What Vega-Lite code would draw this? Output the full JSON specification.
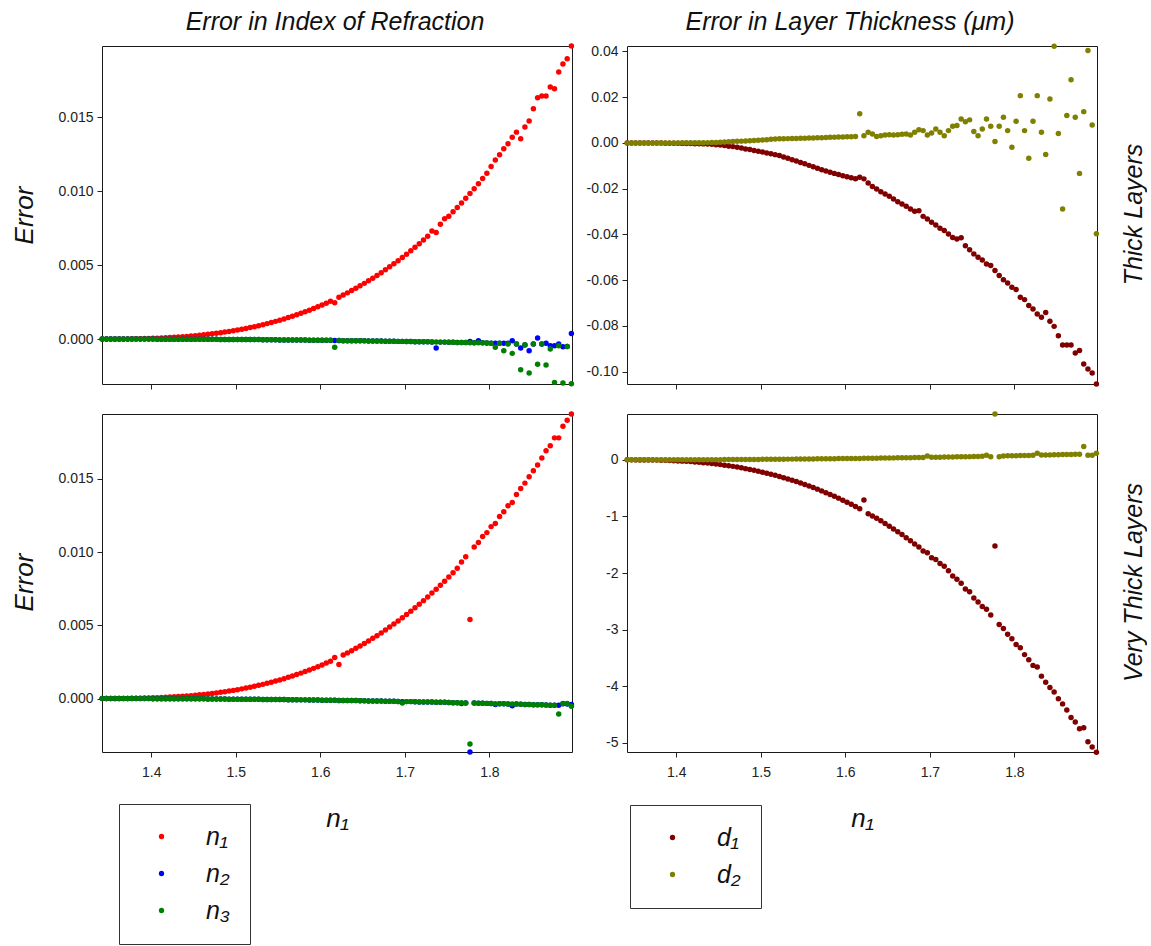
{
"$schema": "https://vega.github.io/schema/vega-lite/v6.json",
"padding": {"left": 10, "top": 9, "right": 0, "bottom": 0},
"background": "white",
"columns": 2,
"spacing": {"row": 30, "column": 55},
"bounds": "flush",
"resolve": {"scale": {"x": "independent", "y": "independent", "color": "independent"}},
"datasets": {"t": [
{"x":1.342,"a1":0,"a2":0,"a3":0,"b1":0,"b2":0,"c1":0,"c2":0,"c3":0,"d1":0,"d2":0},
{"x":1.347,"a1":0,"a2":0,"a3":0,"b1":0,"b2":0,"c1":0,"c2":0,"c3":0,"d1":-0.0001,"d2":0},
{"x":1.352,"a1":0.000001,"a2":0,"a3":0,"b1":0,"b2":0,"c1":0.000001,"c2":0,"c3":0,"d1":-0.0004,"d2":0},
{"x":1.357,"a1":0.000002,"a2":0,"a3":0,"b1":0,"b2":0,"c1":0.000002,"c2":0,"c3":0,"d1":-0.0008,"d2":0},
{"x":1.362,"a1":0.000004,"a2":0,"a3":0,"b1":0,"b2":0,"c1":0.000004,"c2":0,"c3":0,"d1":-0.0013,"d2":0},
{"x":1.367,"a1":0.000006,"a2":0,"a3":0,"b1":-0.00002,"b2":0,"c1":0.000006,"c2":0,"c3":0,"d1":-0.0019,"d2":0},
{"x":1.372,"a1":0.000009,"a2":0,"a3":0,"b1":-0.00003,"b2":0,"c1":0.000009,"c2":0,"c3":0,"d1":-0.003,"d2":0},
{"x":1.377,"a1":0.000013,"a2":0,"a3":0,"b1":-0.00005,"b2":0,"c1":0.000013,"c2":0,"c3":0,"d1":-0.0045,"d2":0},
{"x":1.382,"a1":0.000018,"a2":0,"a3":0,"b1":-0.00006,"b2":0,"c1":0.000018,"c2":0,"c3":0,"d1":-0.0065,"d2":0.001},
{"x":1.387,"a1":0.000024,"a2":0,"a3":0,"b1":-0.00008,"b2":0,"c1":0.000024,"c2":0,"c3":0,"d1":-0.0087,"d2":0.001},
{"x":1.392,"a1":0.000031,"a2":0,"a3":0,"b1":-0.0001,"b2":0.00002,"c1":0.000031,"c2":0,"c3":0,"d1":-0.011,"d2":0.001},
{"x":1.397,"a1":0.000039,"a2":0,"a3":0,"b1":-0.00012,"b2":0.00003,"c1":0.000039,"c2":0,"c3":0,"d1":-0.0145,"d2":0.001},
{"x":1.402,"a1":0.000049,"a2":0,"a3":0,"b1":-0.00015,"b2":0.00004,"c1":0.000049,"c2":-0.00001,"c3":-0.00001,"d1":-0.0185,"d2":0.001},
{"x":1.407,"a1":0.000059,"a2":-0.00001,"a3":-0.00001,"b1":-0.00018,"b2":0.00005,"c1":0.000059,"c2":-0.00001,"c3":-0.00001,"d1":-0.0225,"d2":0.001},
{"x":1.412,"a1":0.000071,"a2":-0.00001,"a3":-0.00001,"b1":-0.0002,"b2":0.00006,"c1":0.000071,"c2":-0.00001,"c3":-0.00001,"d1":-0.0265,"d2":0.002},
{"x":1.417,"a1":0.000085,"a2":-0.00001,"a3":-0.00001,"b1":-0.00025,"b2":0.00007,"c1":0.000085,"c2":-0.00001,"c3":-0.00001,"d1":-0.031,"d2":0.002},
{"x":1.422,"a1":0.0001,"a2":-0.00001,"a3":-0.00001,"b1":-0.0003,"b2":0.00008,"c1":0.0001,"c2":-0.00001,"c3":-0.00001,"d1":-0.037,"d2":0.002},
{"x":1.427,"a1":0.000116,"a2":-0.00001,"a3":-0.00001,"b1":-0.00035,"b2":0.00009,"c1":0.000116,"c2":-0.00001,"c3":-0.00001,"d1":-0.044,"d2":0.003},
{"x":1.432,"a1":0.000134,"a2":-0.00001,"a3":-0.00001,"b1":-0.0004,"b2":0.0001,"c1":0.000134,"c2":-0.00001,"c3":-0.00001,"d1":-0.05,"d2":0.003},
{"x":1.437,"a1":0.000154,"a2":-0.00001,"a3":-0.00001,"b1":-0.0005,"b2":0.00015,"c1":0.000154,"c2":-0.00001,"c3":-0.00001,"d1":-0.057,"d2":0.003},
{"x":1.442,"a1":0.000176,"a2":-0.00001,"a3":-0.00001,"b1":-0.0006,"b2":0.0002,"c1":0.000176,"c2":-0.00002,"c3":-0.00002,"d1":-0.065,"d2":0.004},
{"x":1.447,"a1":0.0002,"a2":-0.00001,"a3":-0.00001,"b1":-0.00075,"b2":0.00025,"c1":0.0002,"c2":-0.00002,"c3":-0.00002,"d1":-0.074,"d2":0.004},
{"x":1.452,"a1":0.000225,"a2":-0.00002,"a3":-0.00002,"b1":-0.0009,"b2":0.0003,"c1":0.000225,"c2":-0.00002,"c3":-0.00002,"d1":-0.084,"d2":0.004},
{"x":1.457,"a1":0.000253,"a2":-0.00002,"a3":-0.00002,"b1":-0.0011,"b2":0.0004,"c1":0.000253,"c2":-0.00002,"c3":-0.00002,"d1":-0.094,"d2":0.005},
{"x":1.462,"a1":0.000283,"a2":-0.00002,"a3":-0.00002,"b1":-0.0014,"b2":0.0005,"c1":0.000283,"c2":-0.00002,"c3":-0.00002,"d1":-0.104,"d2":0.005},
{"x":1.467,"a1":0.000315,"a2":-0.00002,"a3":-0.00002,"b1":-0.0016,"b2":0.0006,"c1":0.000315,"c2":-0.00003,"c3":-0.00003,"d1":-0.115,"d2":0.005},
{"x":1.472,"a1":0.000349,"a2":-0.00002,"a3":-0.00002,"b1":-0.0019,"b2":0.0007,"c1":0.000349,"c2":-0.00003,"c3":-0.00003,"d1":-0.128,"d2":0.006},
{"x":1.477,"a1":0.000386,"a2":-0.00002,"a3":-0.00002,"b1":-0.0022,"b2":0.0008,"c1":0.000386,"c2":-0.00003,"c3":-0.00003,"d1":-0.141,"d2":0.006},
{"x":1.482,"a1":0.000425,"a2":-0.00003,"a3":-0.00003,"b1":-0.0026,"b2":0.0009,"c1":0.000425,"c2":-0.00003,"c3":-0.00003,"d1":-0.155,"d2":0.007},
{"x":1.487,"a1":0.000467,"a2":-0.00003,"a3":-0.00003,"b1":-0.0029,"b2":0.001,"c1":0.000467,"c2":-0.00003,"c3":-0.00003,"d1":-0.169,"d2":0.007},
{"x":1.492,"a1":0.000511,"a2":-0.00003,"a3":-0.00003,"b1":-0.0033,"b2":0.0011,"c1":0.000511,"c2":-0.00004,"c3":-0.00004,"d1":-0.184,"d2":0.008},
{"x":1.497,"a1":0.000558,"a2":-0.00003,"a3":-0.00003,"b1":-0.0036,"b2":0.0012,"c1":0.000558,"c2":-0.00004,"c3":-0.00004,"d1":-0.201,"d2":0.008},
{"x":1.502,"a1":0.000608,"a2":-0.00003,"a3":-0.00003,"b1":-0.004,"b2":0.0013,"c1":0.000608,"c2":-0.00004,"c3":-0.00004,"d1":-0.218,"d2":0.009},
{"x":1.507,"a1":0.000661,"a2":-0.00004,"a3":-0.00004,"b1":-0.0044,"b2":0.00145,"c1":0.000661,"c2":-0.00004,"c3":-0.00004,"d1":-0.236,"d2":0.01},
{"x":1.512,"a1":0.000716,"a2":-0.00004,"a3":-0.00004,"b1":-0.0047,"b2":0.0016,"c1":0.000716,"c2":-0.00005,"c3":-0.00005,"d1":-0.254,"d2":0.01},
{"x":1.517,"a1":0.000774,"a2":-0.00004,"a3":-0.00004,"b1":-0.0051,"b2":0.0017,"c1":0.000774,"c2":-0.00005,"c3":-0.00005,"d1":-0.272,"d2":0.011},
{"x":1.522,"a1":0.000836,"a2":-0.00004,"a3":-0.00004,"b1":-0.0055,"b2":0.0018,"c1":0.000836,"c2":-0.00005,"c3":-0.00005,"d1":-0.293,"d2":0.011},
{"x":1.527,"a1":0.000901,"a2":-0.00004,"a3":-0.00004,"b1":-0.0061,"b2":0.00185,"c1":0.000901,"c2":-0.00005,"c3":-0.00005,"d1":-0.315,"d2":0.012},
{"x":1.532,"a1":0.000968,"a2":-0.00005,"a3":-0.00005,"b1":-0.0067,"b2":0.0019,"c1":0.000968,"c2":-0.00006,"c3":-0.00006,"d1":-0.337,"d2":0.013},
{"x":1.537,"a1":0.00104,"a2":-0.00005,"a3":-0.00005,"b1":-0.0073,"b2":0.00195,"c1":0.00104,"c2":-0.00006,"c3":-0.00006,"d1":-0.359,"d2":0.013},
{"x":1.542,"a1":0.001114,"a2":-0.00005,"a3":-0.00005,"b1":-0.0079,"b2":0.002,"c1":0.001114,"c2":-0.00006,"c3":-0.00006,"d1":-0.382,"d2":0.014},
{"x":1.547,"a1":0.001192,"a2":-0.00005,"a3":-0.00005,"b1":-0.0085,"b2":0.00205,"c1":0.001192,"c2":-0.00007,"c3":-0.00007,"d1":-0.408,"d2":0.015},
{"x":1.552,"a1":0.001273,"a2":-0.00006,"a3":-0.00006,"b1":-0.0091,"b2":0.0021,"c1":0.001273,"c2":-0.00007,"c3":-0.00007,"d1":-0.434,"d2":0.015},
{"x":1.557,"a1":0.001359,"a2":-0.00006,"a3":-0.00006,"b1":-0.0098,"b2":0.00215,"c1":0.001359,"c2":-0.00007,"c3":-0.00007,"d1":-0.461,"d2":0.016},
{"x":1.562,"a1":0.001447,"a2":-0.00006,"a3":-0.00006,"b1":-0.0104,"b2":0.0022,"c1":0.001447,"c2":-0.00008,"c3":-0.00008,"d1":-0.489,"d2":0.017},
{"x":1.567,"a1":0.00154,"a2":-0.00007,"a3":-0.00007,"b1":-0.0111,"b2":0.00225,"c1":0.00154,"c2":-0.00008,"c3":-0.00008,"d1":-0.517,"d2":0.018},
{"x":1.572,"a1":0.001636,"a2":-0.00007,"a3":-0.00007,"b1":-0.0117,"b2":0.0023,"c1":0.001636,"c2":-0.00008,"c3":-0.00008,"d1":-0.548,"d2":0.019},
{"x":1.577,"a1":0.001736,"a2":-0.00007,"a3":-0.00007,"b1":-0.0123,"b2":0.0024,"c1":0.001736,"c2":-0.00009,"c3":-0.00009,"d1":-0.579,"d2":0.019},
{"x":1.582,"a1":0.00184,"a2":-0.00007,"a3":-0.00007,"b1":-0.0128,"b2":0.0025,"c1":0.00184,"c2":-0.00009,"c3":-0.00009,"d1":-0.611,"d2":0.02},
{"x":1.587,"a1":0.001949,"a2":-0.00008,"a3":-0.00008,"b1":-0.0133,"b2":0.00255,"c1":0.001949,"c2":-0.0001,"c3":-0.0001,"d1":-0.643,"d2":0.021},
{"x":1.592,"a1":0.002061,"a2":-0.00008,"a3":-0.00008,"b1":-0.0138,"b2":0.0026,"c1":0.002061,"c2":-0.0001,"c3":-0.0001,"d1":-0.676,"d2":0.022},
{"x":1.597,"a1":0.002178,"a2":-0.00008,"a3":-0.00008,"b1":-0.0143,"b2":0.00265,"c1":0.002178,"c2":-0.0001,"c3":-0.0001,"d1":-0.712,"d2":0.023},
{"x":1.602,"a1":0.002298,"a2":-0.00009,"a3":-0.00009,"b1":-0.0148,"b2":0.0027,"c1":0.002298,"c2":-0.00011,"c3":-0.00011,"d1":-0.749,"d2":0.024},
{"x":1.607,"a1":0.002424,"a2":-0.00009,"a3":-0.00009,"b1":-0.0152,"b2":0.00275,"c1":0.002424,"c2":-0.00011,"c3":-0.00011,"d1":-0.786,"d2":0.025},
{"x":1.612,"a1":0.002553,"a2":-0.00009,"a3":-0.00009,"b1":-0.0156,"b2":0.0028,"c1":0.002553,"c2":-0.00012,"c3":-0.00012,"d1":-0.824,"d2":0.026},
{"x":1.617,"a1":0.00245,"a2":-0.0001,"a3":-0.00056,"b1":-0.015,"b2":0.0128,"c1":0.0028,"c2":-0.00012,"c3":-0.00012,"d1":-0.862,"d2":0.026},
{"x":1.622,"a1":0.002826,"a2":-0.0001,"a3":-0.0001,"b1":-0.0157,"b2":0.0032,"c1":0.00232,"c2":-0.00013,"c3":-0.00013,"d1":-0.71,"d2":0.027},
{"x":1.627,"a1":0.00297,"a2":-0.00011,"a3":-0.00011,"b1":-0.0175,"b2":0.0047,"c1":0.00297,"c2":-0.00013,"c3":-0.00013,"d1":-0.95,"d2":0.028},
{"x":1.632,"a1":0.003118,"a2":-0.00011,"a3":-0.00011,"b1":-0.019,"b2":0.0039,"c1":0.003118,"c2":-0.00013,"c3":-0.00013,"d1":-0.99,"d2":0.029},
{"x":1.637,"a1":0.003271,"a2":-0.00011,"a3":-0.00011,"b1":-0.0201,"b2":0.0028,"c1":0.003271,"c2":-0.00014,"c3":-0.00014,"d1":-1.033,"d2":0.03},
{"x":1.642,"a1":0.003429,"a2":-0.00012,"a3":-0.00012,"b1":-0.0213,"b2":0.0032,"c1":0.003429,"c2":-0.00014,"c3":-0.00014,"d1":-1.076,"d2":0.032},
{"x":1.647,"a1":0.003592,"a2":-0.00012,"a3":-0.00012,"b1":-0.0223,"b2":0.0035,"c1":0.003592,"c2":-0.00015,"c3":-0.00015,"d1":-1.124,"d2":0.033},
{"x":1.652,"a1":0.00376,"a2":-0.00012,"a3":-0.00012,"b1":-0.0233,"b2":0.0036,"c1":0.00376,"c2":-0.00015,"c3":-0.00015,"d1":-1.173,"d2":0.034},
{"x":1.657,"a1":0.003933,"a2":-0.00013,"a3":-0.00013,"b1":-0.0245,"b2":0.0035,"c1":0.003933,"c2":-0.00016,"c3":-0.00016,"d1":-1.222,"d2":0.035},
{"x":1.662,"a1":0.004111,"a2":-0.00013,"a3":-0.00013,"b1":-0.0257,"b2":0.0036,"c1":0.004111,"c2":-0.00016,"c3":-0.00016,"d1":-1.271,"d2":0.036},
{"x":1.667,"a1":0.004295,"a2":-0.00014,"a3":-0.00014,"b1":-0.0267,"b2":0.0038,"c1":0.004295,"c2":-0.00017,"c3":-0.00017,"d1":-1.32,"d2":0.037},
{"x":1.672,"a1":0.004484,"a2":-0.00014,"a3":-0.00014,"b1":-0.0277,"b2":0.0039,"c1":0.004484,"c2":-0.00017,"c3":-0.00017,"d1":-1.375,"d2":0.038},
{"x":1.677,"a1":0.004678,"a2":-0.00015,"a3":-0.00015,"b1":-0.0289,"b2":0.0035,"c1":0.004678,"c2":-0.00018,"c3":-0.00018,"d1":-1.43,"d2":0.039},
{"x":1.682,"a1":0.004878,"a2":-0.00015,"a3":-0.00015,"b1":-0.0299,"b2":0.0047,"c1":0.004878,"c2":-0.00018,"c3":-0.00018,"d1":-1.485,"d2":0.04},
{"x":1.687,"a1":0.005084,"a2":-0.00015,"a3":-0.00015,"b1":-0.0296,"b2":0.0058,"c1":0.005084,"c2":-0.00019,"c3":-0.00019,"d1":-1.54,"d2":0.042},
{"x":1.692,"a1":0.005295,"a2":-0.00016,"a3":-0.00016,"b1":-0.0321,"b2":0.0054,"c1":0.005295,"c2":-0.0002,"c3":-0.0002,"d1":-1.61,"d2":0.043},
{"x":1.697,"a1":0.005512,"a2":-0.00016,"a3":-0.00016,"b1":-0.0332,"b2":0.0035,"c1":0.005512,"c2":-0.00022,"c3":-0.0003,"d1":-1.64,"d2":0.07},
{"x":1.702,"a1":0.005735,"a2":-0.00017,"a3":-0.00017,"b1":-0.0347,"b2":0.0044,"c1":0.005735,"c2":-0.00021,"c3":-0.00021,"d1":-1.73,"d2":0.045},
{"x":1.707,"a1":0.005964,"a2":-0.00017,"a3":-0.00017,"b1":-0.0359,"b2":0.0061,"c1":0.005964,"c2":-0.00021,"c3":-0.00021,"d1":-1.76,"d2":0.047},
{"x":1.712,"a1":0.006198,"a2":-0.00018,"a3":-0.00018,"b1":-0.0373,"b2":0.0047,"c1":0.006198,"c2":-0.00022,"c3":-0.00022,"d1":-1.83,"d2":0.048},
{"x":1.717,"a1":0.006439,"a2":-0.00018,"a3":-0.00018,"b1":-0.0383,"b2":0.0032,"c1":0.006439,"c2":-0.00023,"c3":-0.00023,"d1":-1.88,"d2":0.049},
{"x":1.722,"a1":0.006686,"a2":-0.00019,"a3":-0.00019,"b1":-0.0398,"b2":0.0054,"c1":0.006686,"c2":-0.00023,"c3":-0.00023,"d1":-1.96,"d2":0.051},
{"x":1.727,"a1":0.006939,"a2":-0.00019,"a3":-0.00019,"b1":-0.0413,"b2":0.0073,"c1":0.006939,"c2":-0.00024,"c3":-0.00024,"d1":-2.05,"d2":0.052},
{"x":1.732,"a1":0.0073,"a2":-0.0002,"a3":-0.0002,"b1":-0.042,"b2":0.0076,"c1":0.0072,"c2":-0.00024,"c3":-0.00024,"d1":-2.11,"d2":0.053},
{"x":1.737,"a1":0.0072,"a2":-0.0006,"a3":-0.0002,"b1":-0.0414,"b2":0.0105,"c1":0.007464,"c2":-0.00025,"c3":-0.00025,"d1":-2.18,"d2":0.055},
{"x":1.742,"a1":0.00776,"a2":-0.00021,"a3":-0.00021,"b1":-0.0449,"b2":0.0093,"c1":0.007736,"c2":-0.00026,"c3":-0.00026,"d1":-2.28,"d2":0.056},
{"x":1.747,"a1":0.00812,"a2":-0.00021,"a3":-0.00021,"b1":-0.0467,"b2":0.0101,"c1":0.008015,"c2":-0.00026,"c3":-0.00026,"d1":-2.33,"d2":0.057},
{"x":1.752,"a1":0.0083,"a2":-0.00022,"a3":-0.00022,"b1":-0.0485,"b2":0.005,"c1":0.0083,"c2":-0.00027,"c3":-0.00027,"d1":-2.44,"d2":0.059},
{"x":1.757,"a1":0.008592,"a2":-0.00022,"a3":-0.00022,"b1":-0.05,"b2":0.0032,"c1":0.008592,"c2":-0.00028,"c3":-0.00028,"d1":-2.51,"d2":0.06},
{"x":1.762,"a1":0.008891,"a2":-0.00023,"a3":-0.00023,"b1":-0.0512,"b2":0.0061,"c1":0.008891,"c2":-0.00028,"c3":-0.00028,"d1":-2.59,"d2":0.062},
{"x":1.767,"a1":0.009196,"a2":-0.00023,"a3":-0.00023,"b1":-0.0529,"b2":0.0105,"c1":0.00933,"c2":-0.00034,"c3":-0.00029,"d1":-2.64,"d2":0.083},
{"x":1.772,"a1":0.009508,"a2":-0.00024,"a3":-0.00024,"b1":-0.0536,"b2":0.0073,"c1":0.00969,"c2":-0.0003,"c3":-0.0003,"d1":-2.74,"d2":0.053},
{"x":1.777,"a1":0.009828,"a2":-0.00016,"a3":-0.00025,"b1":-0.0558,"b2":0.0006,"c1":0.0054,"c2":-0.00365,"c3":-0.0031,"d1":-1.52,"d2":0.81},
{"x":1.782,"a1":0.010154,"a2":-0.00025,"a3":-0.00025,"b1":-0.058,"b2":0.0073,"c1":0.01035,"c2":-0.0003,"c3":-0.0003,"d1":-2.91,"d2":0.053},
{"x":1.787,"a1":0.010488,"a2":-0.00011,"a3":-0.00026,"b1":-0.0598,"b2":0.0112,"c1":0.01065,"c2":-0.00032,"c3":-0.00032,"d1":-2.98,"d2":0.069},
{"x":1.792,"a1":0.01085,"a2":-0.00026,"a3":-0.00026,"b1":-0.0612,"b2":0.0054,"c1":0.01106,"c2":-0.00032,"c3":-0.00032,"d1":-3.08,"d2":0.071},
{"x":1.797,"a1":0.0112,"a2":-0.00027,"a3":-0.00027,"b1":-0.0631,"b2":-0.0019,"c1":0.01133,"c2":-0.00033,"c3":-0.00033,"d1":-3.16,"d2":0.072},
{"x":1.802,"a1":0.01165,"a2":-0.00028,"a3":-0.00028,"b1":-0.0641,"b2":0.0095,"c1":0.01174,"c2":-0.00034,"c3":-0.00034,"d1":-3.26,"d2":0.074},
{"x":1.807,"a1":0.0121,"a2":-0.00028,"a3":-0.00056,"b1":-0.0675,"b2":0.0207,"c1":0.01195,"c2":-0.0004,"c3":-0.00035,"d1":-3.32,"d2":0.076},
{"x":1.812,"a1":0.01245,"a2":-0.00029,"a3":-0.00029,"b1":-0.0685,"b2":0.0054,"c1":0.01243,"c2":-0.00035,"c3":-0.00035,"d1":-3.44,"d2":0.077},
{"x":1.817,"a1":0.01285,"a2":-0.00029,"a3":-0.0008,"b1":-0.0711,"b2":-0.0067,"c1":0.01275,"c2":-0.00036,"c3":-0.00036,"d1":-3.53,"d2":0.079},
{"x":1.822,"a1":0.0132,"a2":-0.00029,"a3":-0.00034,"b1":-0.0726,"b2":0.0095,"c1":0.01316,"c2":-0.00037,"c3":-0.00037,"d1":-3.63,"d2":0.081},
{"x":1.827,"a1":0.01364,"a2":-0.00011,"a3":-0.00097,"b1":-0.0748,"b2":0.0207,"c1":0.01338,"c2":-0.0005,"c3":-0.00038,"d1":-3.66,"d2":0.118},
{"x":1.832,"a1":0.01398,"a2":-0.00034,"a3":-0.00034,"b1":-0.0762,"b2":0.0047,"c1":0.01393,"c2":-0.00038,"c3":-0.00038,"d1":-3.82,"d2":0.084},
{"x":1.837,"a1":0.01353,"a2":-0.00061,"a3":-0.00207,"b1":-0.0741,"b2":-0.005,"c1":0.01434,"c2":-0.00039,"c3":-0.00039,"d1":-3.93,"d2":0.086},
{"x":1.842,"a1":0.01432,"a2":-0.0004,"a3":-0.00038,"b1":-0.078,"b2":0.0192,"c1":0.01471,"c2":-0.0004,"c3":-0.0004,"d1":-4.02,"d2":0.088},
{"x":1.847,"a1":0.01473,"a2":-0.00079,"a3":-0.0023,"b1":-0.0802,"b2":0.0423,"c1":0.01514,"c2":-0.00041,"c3":-0.00041,"d1":-4.1,"d2":0.089},
{"x":1.852,"a1":0.01556,"a2":-0.00034,"a3":-0.00034,"b1":-0.0843,"b2":0.0041,"c1":0.01555,"c2":-0.00042,"c3":-0.00042,"d1":-4.22,"d2":0.091},
{"x":1.857,"a1":0.0163,"a2":0.00007,"a3":-0.0017,"b1":-0.0883,"b2":-0.0289,"c1":0.01594,"c2":-0.00042,"c3":-0.00042,"d1":-4.31,"d2":0.093},
{"x":1.862,"a1":0.01642,"a2":-0.00034,"a3":-0.00034,"b1":-0.0883,"b2":0.012,"c1":0.01642,"c2":-0.00043,"c3":-0.00043,"d1":-4.42,"d2":0.095},
{"x":1.867,"a1":0.01642,"a2":-0.00029,"a3":-0.00176,"b1":-0.0883,"b2":0.0276,"c1":0.01692,"c2":-0.00044,"c3":-0.00044,"d1":-4.55,"d2":0.096},
{"x":1.872,"a1":0.01703,"a2":-0.00045,"a3":-0.00068,"b1":-0.0918,"b2":0.0112,"c1":0.01726,"c2":-0.00045,"c3":-0.00045,"d1":-4.63,"d2":0.098},
{"x":1.877,"a1":0.01691,"a2":-0.00045,"a3":-0.00293,"b1":-0.0908,"b2":-0.0133,"c1":0.0178,"c2":-0.00046,"c3":-0.00046,"d1":-4.75,"d2":0.1},
{"x":1.882,"a1":0.01804,"a2":-0.00034,"a3":-0.00045,"b1":-0.0967,"b2":0.0137,"c1":0.0178,"c2":-0.00045,"c3":-0.00105,"d1":-4.73,"d2":0.236},
{"x":1.887,"a1":0.01858,"a2":-0.00052,"a3":-0.00298,"b1":-0.0988,"b2":0.0404,"c1":0.0186,"c2":-0.00036,"c3":-0.00034,"d1":-4.98,"d2":0.083},
{"x":1.892,"a1":0.01894,"a2":-0.0005,"a3":-0.0005,"b1":-0.1006,"b2":0.0079,"c1":0.019,"c2":-0.00037,"c3":-0.00034,"d1":-5.07,"d2":0.083},
{"x":1.897,"a1":0.0198,"a2":0.00038,"a3":-0.00303,"b1":-0.1054,"b2":-0.0397,"c1":0.01943,"c2":-0.0004,"c3":-0.00053,"d1":-5.165,"d2":0.118}
]},
"concat": [
{
 "width": 470, "height": 338,
 "data": {"name": "t"},
 "transform": [{"fold": ["a1","a2","a3"], "as": ["s","v"]}],
 "title": {"text": "Error in Index of Refraction", "dx": -2},
 "mark": {"type": "point", "filled": true, "size": 30, "opacity": 1, "strokeWidth": 0},
 "encoding": {
  "x": {"field": "x", "type": "quantitative", "scale": {"domain": [1.3417, 1.8977], "nice": false, "zero": false}, "axis": {"values": [1.4,1.5,1.6,1.7,1.8], "labels": false, "title": null}},
  "y": {"field": "v", "type": "quantitative", "scale": {"domain": [-0.00304, 0.0198], "nice": false, "zero": false}, "axis": {"values": [0,0.005,0.01,0.015], "format": ".3f", "title": "Error", "titleX": -78, "titleY": 169, "titleAngle": 270, "titleAlign": "center", "titleBaseline": "middle", "titleFontSize": 26}},
  "color": {"field": "s", "type": "nominal", "scale": {"domain": ["a1","a2","a3"], "range": ["#ff0000","#0000ff","#008000"]}, "legend": null},
  "order": {"field": "s", "type": "ordinal"}
 }
},
{
 "width": 470, "height": 338,
 "data": {"name": "t"},
 "transform": [{"fold": ["b1","b2"], "as": ["s","v"]}],
 "title": {"text": "Error in Layer Thickness (μm)", "dx": -12},
 "encoding": {
  "x": {"field": "x", "type": "quantitative", "scale": {"domain": [1.3417, 1.8977], "nice": false, "zero": false}, "axis": {"values": [1.4,1.5,1.6,1.7,1.8], "labels": false, "title": null}}
 },
 "layer": [
  {
   "mark": {"type": "point", "filled": true, "size": 30, "opacity": 1, "strokeWidth": 0},
   "encoding": {
    "y": {"field": "v", "type": "quantitative", "scale": {"domain": [-0.1054, 0.0424], "nice": false, "zero": false}, "axis": {"values": [0.04,0.02,0,-0.02,-0.04,-0.06,-0.08,-0.1], "labelExpr": "replace(format(datum.value, '.2f'), '\u2212', '-')", "title": null}},
    "color": {"field": "s", "type": "nominal", "scale": {"domain": ["b1","b2"], "range": ["#800000","#808000"]}, "legend": null},
    "order": {"field": "s", "type": "ordinal"}
   }
  },
  {
   "mark": {"type": "point", "opacity": 0, "filled": true, "size": 1},
   "encoding": {
    "y": {"field": "v", "type": "quantitative", "scale": {"domain": [-0.1054, 0.0424], "nice": false, "zero": false}, "axis": {"orient": "right", "labels": false, "ticks": false, "title": "Thick Layers", "titleX": 36, "titleY": 168, "titleAngle": 270, "titleAlign": "center", "titleBaseline": "middle", "titleFontSize": 25}}
   }
  }
 ],
 "resolve": {"axis": {"y": "independent"}}
},
{
 "width": 470, "height": 338,
 "data": {"name": "t"},
 "transform": [{"fold": ["c1","c2","c3"], "as": ["s","v"]}],
 "mark": {"type": "point", "filled": true, "size": 30, "opacity": 1, "strokeWidth": 0},
 "encoding": {
  "x": {"field": "x", "type": "quantitative", "scale": {"domain": [1.3417, 1.8977], "nice": false, "zero": false}, "axis": {"values": [1.4,1.5,1.6,1.7,1.8], "format": ".1f", "labelPadding": 8, "title": "n₁", "titleX": 235, "titleY": 66, "titleAlign": "center", "titleBaseline": "middle", "titleFontSize": 26}},
  "y": {"field": "v", "type": "quantitative", "scale": {"domain": [-0.00365, 0.01943], "nice": false, "zero": false}, "axis": {"values": [0,0.005,0.01,0.015], "format": ".3f", "title": "Error", "titleX": -78, "titleY": 168, "titleAngle": 270, "titleAlign": "center", "titleBaseline": "middle", "titleFontSize": 26}},
  "color": {"field": "s", "type": "nominal", "scale": {"domain": ["c1","c2","c3"], "range": ["#ff0000","#0000ff","#008000"]}, "legend": {"orient": "none", "legendX": 17, "legendY": 390, "labelExpr": "datum.label == 'c1' ? 'n₁' : datum.label == 'c2' ? 'n₂' : 'n₃'"}},
  "order": {"field": "s", "type": "ordinal"}
 }
},
{
 "width": 470, "height": 338,
 "data": {"name": "t"},
 "transform": [{"fold": ["d1","d2"], "as": ["s","v"]}],
 "encoding": {
  "x": {"field": "x", "type": "quantitative", "scale": {"domain": [1.3417, 1.8977], "nice": false, "zero": false}, "axis": {"values": [1.4,1.5,1.6,1.7,1.8], "format": ".1f", "labelPadding": 8, "title": "n₁", "titleX": 235, "titleY": 66, "titleAlign": "center", "titleBaseline": "middle", "titleFontSize": 26}}
 },
 "layer": [
  {
   "mark": {"type": "point", "filled": true, "size": 30, "opacity": 1, "strokeWidth": 0},
   "encoding": {
    "y": {"field": "v", "type": "quantitative", "scale": {"domain": [-5.16, 0.81], "nice": false, "zero": false}, "axis": {"values": [0,-1,-2,-3,-4,-5], "labelExpr": "replace(format(datum.value, 'd'), '\u2212', '-')", "title": null}},
    "color": {"field": "s", "type": "nominal", "scale": {"domain": ["d1","d2"], "range": ["#800000","#808000"]}, "legend": {"orient": "none", "legendX": 3, "legendY": 391, "labelExpr": "datum.label == 'd1' ? 'd₁' : 'd₂'"}},
    "order": {"field": "s", "type": "ordinal"}
   }
  },
  {
   "mark": {"type": "point", "opacity": 0, "filled": true, "size": 1},
   "encoding": {
    "y": {"field": "v", "type": "quantitative", "scale": {"domain": [-5.16, 0.81], "nice": false, "zero": false}, "axis": {"orient": "right", "labels": false, "ticks": false, "title": "Very Thick Layers", "titleX": 36, "titleY": 168, "titleAngle": 270, "titleAlign": "center", "titleBaseline": "middle", "titleFontSize": 25}}
   }
  }
 ],
 "resolve": {"axis": {"y": "independent"}}
}
],
"config": {
 "font": "Liberation Sans",
 "view": {"stroke": "#1a1a1a", "strokeWidth": 1},
 "axis": {"grid": false, "domain": false, "ticks": true, "tickColor": "#222", "tickSize": 5, "tickWidth": 1, "labelFont": "Liberation Sans", "labelFontSize": 14, "labelColor": "#222", "labelPadding": 4, "titleFont": "Liberation Sans", "titleFontStyle": "italic", "titleFontWeight": "normal", "titleColor": "#111"},
 "title": {"font": "Liberation Sans", "fontSize": 25, "fontStyle": "italic", "fontWeight": "normal", "color": "#111", "anchor": "middle", "frame": "group", "baseline": "alphabetic", "offset": 8},
 "legend": {"title": null, "strokeColor": "#333", "fillColor": "white", "padding": 20, "labelFont": "Liberation Sans", "labelFontSize": 25, "labelFontStyle": "italic", "labelColor": "#111", "symbolType": "circle", "symbolSize": 28, "symbolStrokeWidth": 0, "rowPadding": 11, "labelOffset": 32, "symbolOffset": 10}
}
}
